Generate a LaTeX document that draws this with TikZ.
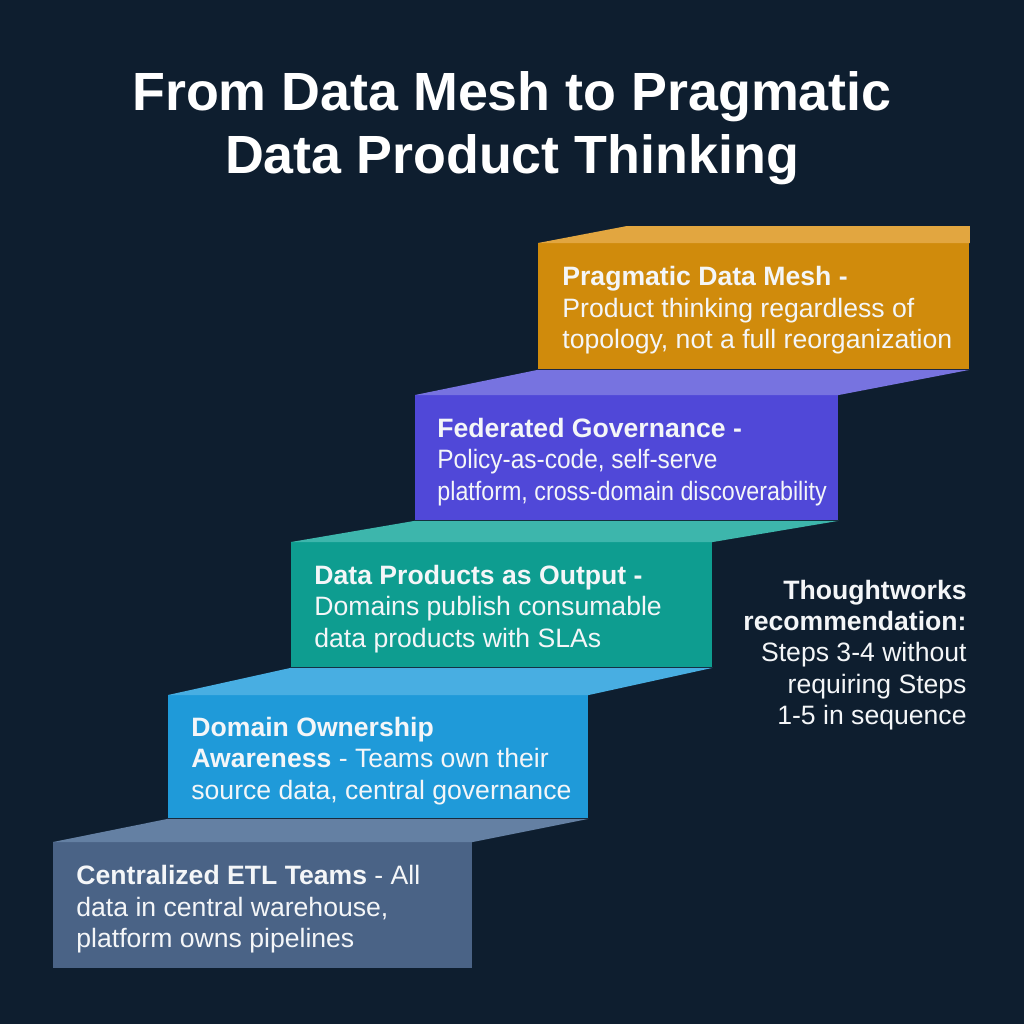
\documentclass[tikz,border=0pt]{standalone}
\usepackage{fontspec}
\setmainfont{Liberation Sans}
\usetikzlibrary{positioning}

\definecolor{bgnavy}{HTML}{0E1E2F}
\definecolor{etlfront}{HTML}{4A6386}
\definecolor{etltop}{HTML}{6480A3}
\definecolor{domfront}{HTML}{1F9AD9}
\definecolor{domtop}{HTML}{48AEE2}
\definecolor{prodfront}{HTML}{0E9D90}
\definecolor{prodtop}{HTML}{3DB6AC}
\definecolor{fedfront}{HTML}{5048D8}
\definecolor{fedtop}{HTML}{7773E0}
\definecolor{pragfront}{HTML}{D08B0C}
\definecolor{pragtop}{HTML}{E2A640}
\definecolor{offwhite}{HTML}{F4F6F8}

\tikzset{
  stepbox/.style={rectangle, draw=none, anchor=north west, inner sep=0pt,
    minimum width=210.5pt, minimum height=62.5pt},
  steptext/.style={text=offwhite, align=left, inner sep=0pt,
    font=\fontsize{13.3}{15.8}\selectfont},
  titletext/.style={text=white, align=center, inner sep=0pt,
    font=\fontsize{26.9}{31.5}\selectfont\bfseries},
  notetext/.style={text=offwhite, align=right, inner sep=0pt, anchor=east,
    font=\fontsize{13.3}{15.7}\selectfont}
}

\begin{document}
\begin{tikzpicture}[x=0.5pt, y=-0.5pt]
  \fill[bgnavy] (0,0) rectangle (1024,1024);
  \useasboundingbox (0,0) rectangle (1024,1024);

  \node[titletext] (title) at (512,128) {From Data Mesh to Pragmatic\\Data Product Thinking};

  % front faces, bottom step first
  \node[stepbox, fill=etlfront, minimum width=209.5pt, minimum height=63pt] (etl) at (53,842) {};
  \node[stepbox, fill=domfront, minimum width=210pt, minimum height=61.5pt] (dom) at (168,695) {};
  \node[stepbox, fill=prodfront] (prod) at (291,542) {};
  \node[stepbox, fill=fedfront, minimum width=211.5pt] (fed) at (415,395) {};
  \node[stepbox, fill=pragfront, minimum width=215.5pt, minimum height=63pt] (prag) at (538,243) {};

  % top faces
  \fill[etltop] (etl.north west) -- (dom.south west) -- (dom.south east) -- (etl.north east) -- cycle;
  \fill[domtop] (dom.north west) -- (prod.south west) -- (prod.south east) -- (dom.north east) -- cycle;
  \fill[prodtop] (prod.north west) -- (fed.south west) -- (fed.south east) -- (prod.north east) -- cycle;
  \fill[fedtop] (fed.north west) -- (prag.south west) -- (prag.south east) -- (fed.north east) -- cycle;
  \coordinate (pragback) at (627,226);
  \fill[pragtop] (prag.north west) -- (pragback) -- (pragback -| prag.north east) -- (prag.north east) -- cycle;

  % step labels
  \node[steptext, right=11.5pt of etl.west, yshift=-2pt] (etllabel)
    {\textbf{Centralized ETL Teams} - All\\data in central warehouse,\\platform owns pipelines};
  \node[steptext, right=11.5pt of dom.west, yshift=-2pt] (domlabel)
    {\textbf{Domain Ownership}\\\textbf{Awareness} - Teams own their\\source data, central governance};
  \node[steptext, right=11.5pt of prod.west, yshift=-2pt] (prodlabel)
    {\textbf{Data Products as Output -}\\Domains publish consumable\\data products with SLAs};
  \node[steptext, right=11pt of fed.west, yshift=-2pt] (fedlabel)
    {\textbf{Federated Governance -}\\\scalebox{0.92}[1]{Policy-as-code, self-serve}\\\scalebox{0.875}[1]{platform, cross-domain discoverability}};
  \node[steptext, right=12pt of prag.west, yshift=-2pt] (praglabel)
    {\textbf{Pragmatic Data Mesh -}\\Product thinking regardless of\\topology, not a full reorganization};

  % side note
  \node[notetext] (note) at (967,655)
    {\textbf{Thoughtworks}\\\textbf{recommendation:}\\Steps 3-4 without\\requiring Steps\\1-5 in sequence};
\end{tikzpicture}
\end{document}
